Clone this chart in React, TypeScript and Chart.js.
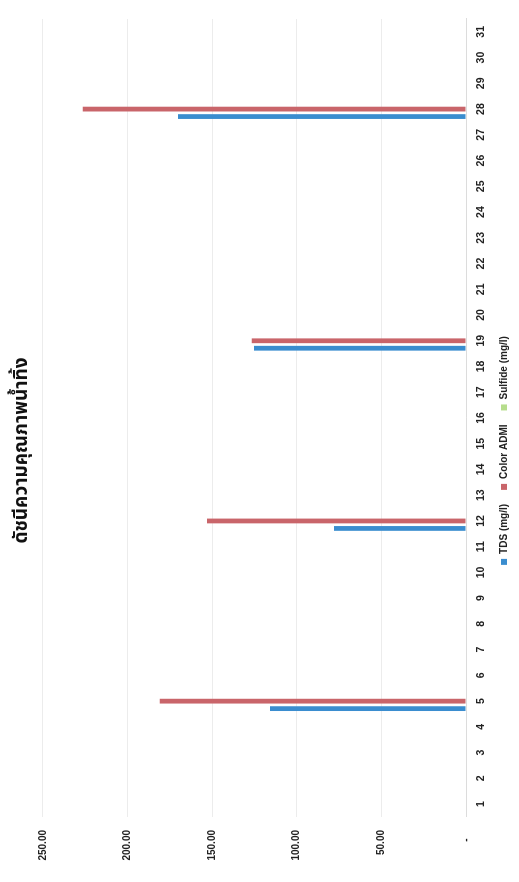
import React, { useEffect, useRef } from 'react';
import { Chart, registerables } from 'chart.js';

Chart.register(...registerables);

const TITLE = 'ดัชนีความคุณภาพน้ำทิ้ง';

const categories = [
  '1', '2', '3', '4', '5', '6', '7', '8', '9', '10',
  '11', '12', '13', '14', '15', '16', '17', '18', '19', '20',
  '21', '22', '23', '24', '25', '26', '27', '28', '29', '30', '31',
];

const tdsValues = [
  null, null, null, null, 115.8, null, null, null, null, null,
  null, 78, null, null, null, null, null, null, 125.3, null,
  null, null, null, null, null, null, null, 170.2, null, null, null,
];

const colorAdmiValues = [
  null, null, null, null, 180.9, null, null, null, null, null,
  null, 153, null, null, null, null, null, null, 126.5, null,
  null, null, null, null, null, null, null, 226.4, null, null, null,
];

const sulfideValues = [
  null, null, null, null, 0, null, null, null, null, null,
  null, 0, null, null, null, null, null, null, 0, null,
  null, null, null, null, null, null, null, 0, null, null, null,
];

const seriesNames = ['TDS (mg/l)', 'Color ADMI', 'Sulfide (mg/l)'];

const W = 882;
const H = 519;
const FONT = "'Liberation Sans', Arial, sans-serif";

export default function App() {
  const ref = useRef<HTMLCanvasElement | null>(null);

  useEffect(() => {
    if (!ref.current) return;
    const common = { borderWidth: 0, categoryPercentage: 0.87, barPercentage: 0.64 };
    const chart = new Chart(ref.current, {
      type: 'bar',
      data: {
        labels: categories,
        datasets: [
          { label: seriesNames[0], data: tdsValues, backgroundColor: '#3a8dcf', ...common },
          { label: seriesNames[1], data: colorAdmiValues, backgroundColor: '#c9656a', ...common },
          { label: seriesNames[2], data: sulfideValues, backgroundColor: '#b6dd8c', ...common },
        ],
      },
      options: {
        animation: false,
        responsive: false,
        maintainAspectRatio: false,
        layout: { padding: { left: 0, right: 19, top: 0, bottom: 0 } },
        plugins: {
          title: {
            display: true,
            text: TITLE,
            color: '#111',
            font: { family: "'Noto Sans Thai', Tahoma, 'DejaVu Sans', sans-serif", size: 19, weight: 'bold' },
            padding: { top: 12, bottom: 8 },
          },
          legend: {
            position: 'bottom',
            labels: {
              boxWidth: 6,
              boxHeight: 6,
              padding: 14,
              color: '#222',
              font: { family: FONT, size: 10, weight: 'bold' },
            },
          },
          tooltip: { enabled: false },
        },
        scales: {
          x: {
            grid: { display: false, drawTicks: false },
            border: { display: true, color: '#dcdcdc' },
            ticks: {
              padding: 9,
              color: '#222',
              maxRotation: 0,
              autoSkip: false,
              font: { family: FONT, size: 10.5, weight: 'bold' },
            },
            afterFit: (s: any) => { s.height = 19; },
          },
          y: {
            min: 0,
            max: 250,
            ticks: {
              stepSize: 50,
              padding: 13,
              color: '#222',
              font: { family: FONT, size: 10, weight: 'bold' },
              callback: (v: any) => (Number(v) === 0 ? '-   ' : Number(v).toFixed(2)),
            },
            grid: { color: '#ececec', drawTicks: false },
            border: { display: false },
            afterFit: (s: any) => { s.width = 65; },
          },
        },
      },
    });
    return () => chart.destroy();
  }, []);

  return (
    <div
      style={{
        position: 'fixed',
        left: 0,
        top: 0,
        width: W,
        height: H,
        background: '#fff',
        transformOrigin: '0 0',
        transform: `translateY(${W}px) rotate(-90deg)`,
      }}
    >
      <canvas ref={ref} width={W} height={H} style={{ width: W, height: H, display: 'block' }} />
    </div>
  );
}
